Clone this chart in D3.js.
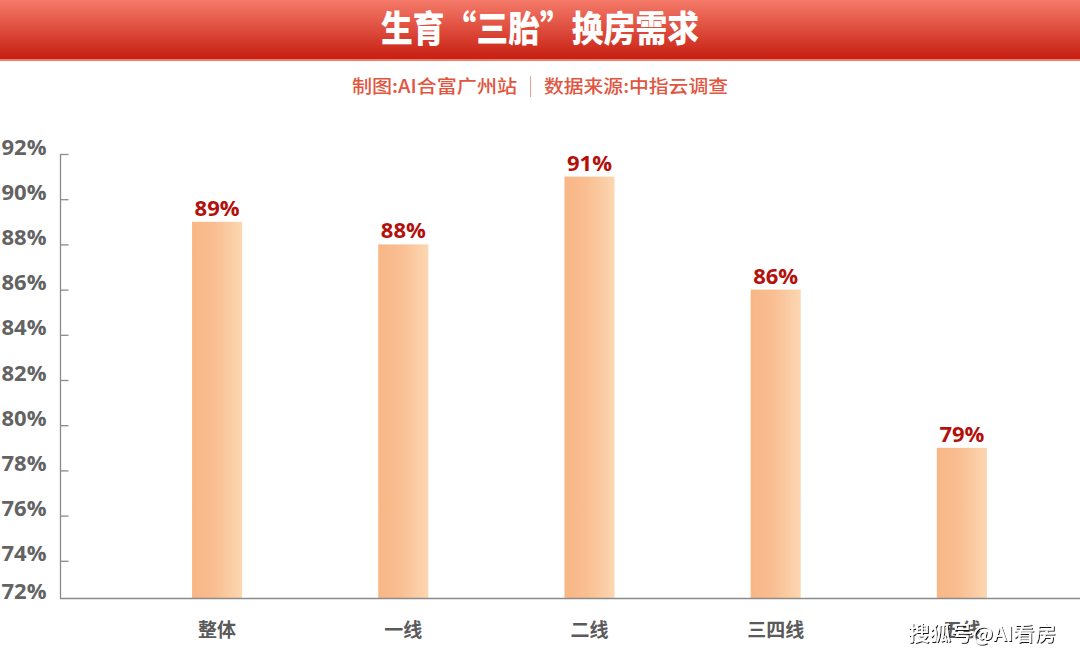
<!DOCTYPE html>
<html><head><meta charset="utf-8">
<script src="https://cdn.jsdelivr.net/npm/d3@7/dist/d3.min.js"></script>
<style>body{margin:0;background:#fff}svg{display:block}</style>
</head><body>
<script>
const categories = ["整体","一线","二线","三四线","五线"];
const values = [89,88,91,86,79];
const yTicks = [72,74,76,78,80,82,84,86,88,90,92];
const title = "生育“三胎”换房需求";
const subtitleLeft = "制图:AI合富广州站";
const subtitleRight = "数据来源:中指云调查";
const watermark = "搜狐号@AI看房";

const W = 1080, H = 657;
const svg = d3.select("body").append("svg").attr("width", W).attr("height", H);
const defs = svg.append("defs");
const hg = defs.append("linearGradient").attr("id","hdr").attr("x1",0).attr("y1",0).attr("x2",0).attr("y2",1);
hg.append("stop").attr("offset","0%").attr("stop-color","#f57a69");
hg.append("stop").attr("offset","100%").attr("stop-color","#c51d0f");
const bg = defs.append("linearGradient").attr("id","bar").attr("x1",0).attr("y1",0).attr("x2",1).attr("y2",0);
bg.append("stop").attr("offset","0%").attr("stop-color","#f8b685");
bg.append("stop").attr("offset","45%").attr("stop-color","#f9be92");
bg.append("stop").attr("offset","100%").attr("stop-color","#fcd7b2");
const sh = defs.append("filter").attr("id","sh").attr("x","-10%").attr("y","-30%").attr("width","120%").attr("height","160%");
sh.append("feDropShadow").attr("dx",1).attr("dy",1).attr("stdDeviation",0.6).attr("flood-color","#000").attr("flood-opacity",0.9);

// header
svg.append("rect").attr("x",0).attr("y",0).attr("width",W).attr("height",60).attr("fill","url(#hdr)");
svg.append("rect").attr("x",0).attr("y",59).attr("width",W).attr("height",2).attr("fill","#ee7f6c");
svg.append("text").attr("x",W/2).attr("y",42).attr("text-anchor","middle")
  .attr("font-family","'Noto Sans CJK SC'").attr("font-weight",900).attr("font-size",36)
  .attr("fill","#fff").attr("textLength",318).attr("lengthAdjust","spacingAndGlyphs").text(title);

// subtitle
svg.append("text").attr("x",352).attr("y",93).attr("font-family","'Noto Sans CJK SC'").attr("font-weight",500)
  .attr("font-size",18).attr("fill","#e2553f").attr("textLength",165).attr("lengthAdjust","spacingAndGlyphs").text(subtitleLeft);
svg.append("line").attr("x1",530.5).attr("x2",530.5).attr("y1",76).attr("y2",97).attr("stroke","#f0a090").attr("stroke-width",1);
svg.append("text").attr("x",544).attr("y",93).attr("font-family","'Noto Sans CJK SC'").attr("font-weight",500)
  .attr("font-size",18).attr("fill","#e2553f").attr("textLength",184).attr("lengthAdjust","spacingAndGlyphs").text(subtitleRight);

// scales
const y = d3.scaleLinear().domain([72,92]).range([606,154]);
const baseY = 598.5;
const x = d3.scaleBand().domain(categories).range([124,1055]).paddingInner(0.731).paddingOuter(0.3655);

// y axis
const yAxis = svg.append("g").attr("transform","translate(60.5,0)")
  .call(d3.axisLeft(y).tickValues(yTicks).tickFormat(d=>d+"%").tickSizeInner(-8).tickSizeOuter(0).tickPadding(14));
yAxis.select(".domain").attr("d",`M0,${y(92)}V${baseY}`).attr("stroke","#8a8a8a").attr("stroke-width",1.3);
yAxis.selectAll(".tick line").attr("stroke","#8a8a8a").attr("stroke-width",1.3);
yAxis.selectAll(".tick text").attr("font-family","'Open Sans','Noto Sans CJK SC'").attr("font-weight",700)
  .attr("font-size",22).attr("fill","#636363").attr("y",-7);
yAxis.selectAll(".tick").filter(d=>d===72).each(function(){
  d3.select(this).select("line").remove();
  d3.select(this).attr("transform",`translate(0,${baseY})`);
});

// bars
svg.append("g").selectAll("rect").data(values).join("rect")
  .attr("x",(d,i)=>x(categories[i])).attr("width",x.bandwidth())
  .attr("y",d=>y(d)).attr("height",d=>baseY-y(d)).attr("fill","url(#bar)");

// value labels
svg.append("g").selectAll("text").data(values).join("text")
  .attr("x",(d,i)=>x(categories[i])+x.bandwidth()/2).attr("y",d=>y(d)-6)
  .attr("text-anchor","middle").attr("font-family","'Open Sans','Noto Sans CJK SC'").attr("font-weight",700)
  .attr("font-size",22).attr("fill","#b3100c").text(d=>d+"%");

// x axis baseline
svg.append("line").attr("x1",60).attr("x2",W).attr("y1",baseY).attr("y2",baseY).attr("stroke","#8a8a8a").attr("stroke-width",1.5);

// x labels
svg.append("g").selectAll("text").data(categories).join("text")
  .attr("x",d=>x(d)+x.bandwidth()/2).attr("y",637).attr("text-anchor","middle")
  .attr("font-family","'Noto Sans CJK SC'").attr("font-weight",700).attr("font-size",19).attr("fill","#5a5a5a").text(d=>d);

// watermark
svg.append("text").attr("x",908).attr("y",641).attr("font-family","'Noto Sans CJK SC'").attr("font-weight",500)
  .attr("font-size",20).attr("fill","#fff").attr("filter","url(#sh)").attr("textLength",148).attr("lengthAdjust","spacingAndGlyphs").text(watermark);
</script>
</body></html>
